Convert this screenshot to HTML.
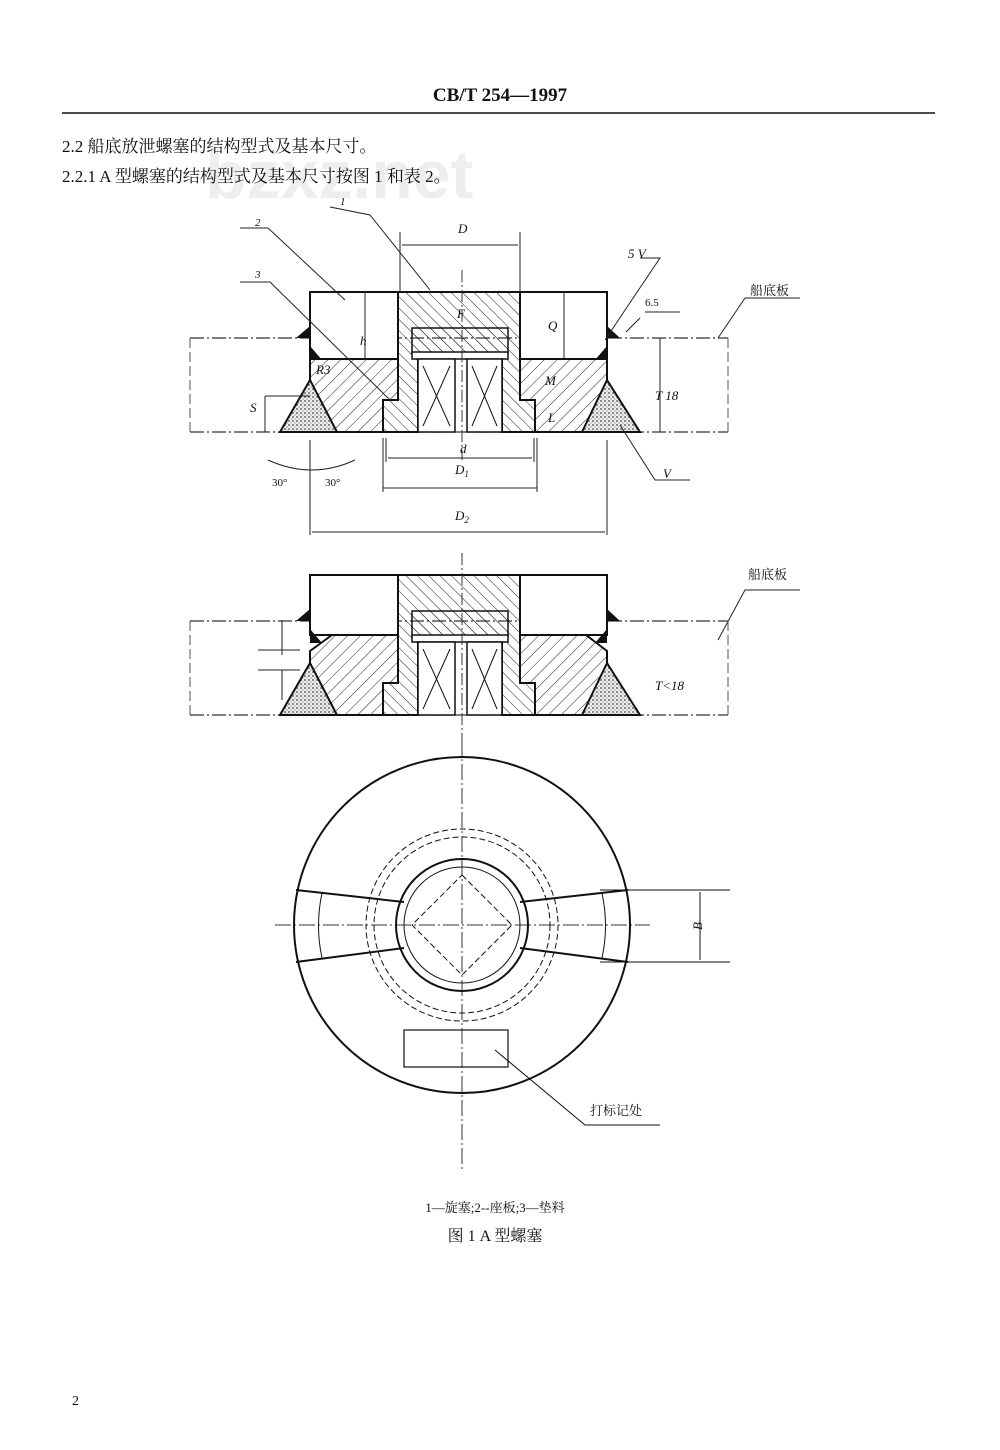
<!DOCTYPE html><html><head><meta charset="utf-8"><style>
body{margin:0;background:#fff}
svg{display:block}
text{font-family:"Liberation Serif","Noto Serif CJK SC",serif;fill:#111}
</style></head><body>
<svg width="1000" height="1450" viewBox="0 0 1000 1450" xmlns="http://www.w3.org/2000/svg">
<defs>
<pattern id="h" width="9" height="9" patternUnits="userSpaceOnUse" patternTransform="rotate(45)"><line x1="0" y1="0" x2="0" y2="9" stroke="#222" stroke-width="1"/></pattern>
<pattern id="h2" width="8" height="8" patternUnits="userSpaceOnUse" patternTransform="rotate(-45)"><line x1="0" y1="0" x2="0" y2="8" stroke="#222" stroke-width="1"/></pattern>
<pattern id="dots" width="4" height="4" patternUnits="userSpaceOnUse"><rect width="4" height="4" fill="#eee"/><circle cx="1" cy="1" r="0.9" fill="#444"/><circle cx="3" cy="3" r="0.6" fill="#777"/></pattern>
<g id="base">
<path d="M190 338H728M190 432H728" stroke="#333" stroke-width="1.2" stroke-dasharray="14 3 2 3"/>
<path d="M190 338V432M728 338V432" stroke="#555" stroke-dasharray="10 4"/>
</g>
<g id="plug">
<path d="M398 292H520V400H535V432H502V358H418V432H383V400H398Z" fill="url(#h2)" stroke="#111" stroke-width="2"/>
<rect x="412" y="328" width="96" height="26" fill="url(#h2)" stroke="#111" stroke-width="1.5"/>
<rect x="412" y="352" width="96" height="7" fill="#fff" stroke="#111" stroke-width="1.5"/>
<g stroke="#111" stroke-width="1.5" fill="#fff">
<rect x="418" y="359" width="37" height="73"/><rect x="467" y="359" width="35" height="73"/>
<path d="M423 366L450 426M450 366L423 426M472 366L497 426M497 366L472 426" fill="none" stroke-width="1"/>
</g>
<path d="M280 432L310 380L337 432Z" fill="url(#dots)" stroke="#111" stroke-width="2"/>
<path d="M582 432L607 380L640 432Z" fill="url(#dots)" stroke="#111" stroke-width="2"/>
<path d="M296 338L310 326V338ZM310 346L310 360L322 360Z M620 338L607 326V338ZM607 346L607 360L595 360Z" fill="#111"/>
<path d="M462 270V460" stroke="#333" stroke-dasharray="12 3 2 3"/>
</g>
</defs>

<text x="500" y="101" font-size="19" font-weight="bold" text-anchor="middle">CB/T 254—1997</text>
<line x1="62" y1="113" x2="935" y2="113" stroke="#111" stroke-width="1.5"/>
<text x="205" y="198" font-size="68" font-weight="bold" style="fill:#eeeeee;font-family:'Liberation Sans',sans-serif">bzxz.net</text>
<text x="62" y="152" font-size="17">2.2  船底放泄螺塞的结构型式及基本尺寸。</text>
<text x="62" y="182" font-size="17">2.2.1  A 型螺塞的结构型式及基本尺寸按图 1 和表 2。</text>

<!-- section 1 -->
<use href="#base"/>
<path d="M310 359H398V400H383V432H310Z" fill="url(#h)" stroke="#111" stroke-width="2"/>
<path d="M520 359H607V432H535V400H520Z" fill="url(#h)" stroke="#111" stroke-width="2"/>
<path d="M310 292H398V359H310ZM520 292H607V359H520Z" fill="#fff" stroke="#111" stroke-width="2"/>
<use href="#plug"/>

<g stroke="#222" stroke-width="1" fill="none">
<path d="M400 232V292M520 232V292M402 245H518"/>
<path d="M240 228H268L345 300M240 282H270L390 400M330 207L370 215L430 290"/>
<path d="M365 292V359M564 292V359M660 338V432M265 396V432M265 396H310"/>
<path d="M386 438V462M534 438V462M388 458H532M383 438V492M537 438V492M383 488H537M310 440V535M607 440V535M312 532H605"/>
<path d="M268 460Q312 480 355 460M620 425L655 480H690M640 258H660L605 340M640 318L626 332M645 312H680M718 338L745 298H800M718 640L745 590H800"/>
<path d="M282 620V655M282 670V700M258 650H300M258 670H300M520 580V650"/>
</g>
<g font-style="italic" font-size="13">
<text x="458" y="233">D</text><text x="340" y="205" font-size="11">1</text><text x="255" y="226" font-size="11">2</text><text x="255" y="278" font-size="11">3</text>
<text x="457" y="318">F</text><text x="360" y="345">h</text><text x="316" y="374">R3</text><text x="250" y="412">S</text>
<text x="460" y="453">d</text><text x="455" y="474">D<tspan font-size="9" dy="3">1</tspan></text><text x="455" y="520">D<tspan font-size="9" dy="3">2</tspan></text>
<text x="548" y="330">Q</text><text x="545" y="385">M</text><text x="548" y="422">L</text><text x="655" y="400">T  18</text>
<text x="628" y="258">5 V</text><text x="645" y="306" font-style="normal" font-size="11">6.5</text><text x="663" y="478">V</text>
<text x="272" y="486" font-style="normal" font-size="11">30°</text><text x="325" y="486" font-style="normal" font-size="11">30°</text>
<text x="548" y="610">Q≈14</text><text x="655" y="690">T&lt;18</text>
</g>
<text x="750" y="295" font-size="13">船底板</text>
<text x="748" y="579" font-size="13">船底板</text>

<!-- section 2 -->
<g transform="translate(0,283)">
<use href="#base"/>
<path d="M310 292H398V352H310ZM520 292H607V352H520Z" fill="#fff" stroke="#111" stroke-width="2"/>
<path d="M310 368L332 352H398V400H383V432H310Z" fill="url(#h)" stroke="#111" stroke-width="2"/>
<path d="M520 352H586L607 368V432H535V400H520Z" fill="url(#h)" stroke="#111" stroke-width="2"/>
<use href="#plug"/>
</g>

<!-- plan view -->
<g stroke="#111" fill="none">
<path d="M275 925H650M462 740V1170" stroke="#333" stroke-dasharray="16 3 2 3"/>
<circle cx="462" cy="925" r="168" stroke-width="2"/>
<circle cx="462" cy="925" r="96" stroke-dasharray="6 3"/>
<circle cx="462" cy="925" r="88" stroke-dasharray="6 3"/>
<circle cx="462" cy="925" r="66" stroke-width="2"/>
<circle cx="462" cy="925" r="58"/>
<path d="M462 875L512 925L462 975L412 925Z" stroke-dasharray="6 3"/>
<path d="M296 890L404 902M296 962L404 948M628 890L520 902M628 962L520 948" stroke-width="2"/>
<path d="M322 893Q315 926 322 958M602 893Q609 926 602 958"/>
<path d="M600 890H730M600 962H730M700 892V960"/>
<rect x="404" y="1030" width="104" height="37" stroke-width="1.2"/>
<path d="M495 1050L585 1125H660"/>
</g>
<text x="702" y="930" font-size="13" font-style="italic" transform="rotate(-90 702 930)">B</text>
<text x="590" y="1115" font-size="13">打标记处</text>

<text x="495" y="1212" font-size="13" text-anchor="middle">1—旋塞;2--座板;3—垫料</text>
<text x="495" y="1241" font-size="16" text-anchor="middle">图 1   A 型螺塞</text>
<text x="72" y="1405" font-size="14">2</text>
</svg>
</body></html>
